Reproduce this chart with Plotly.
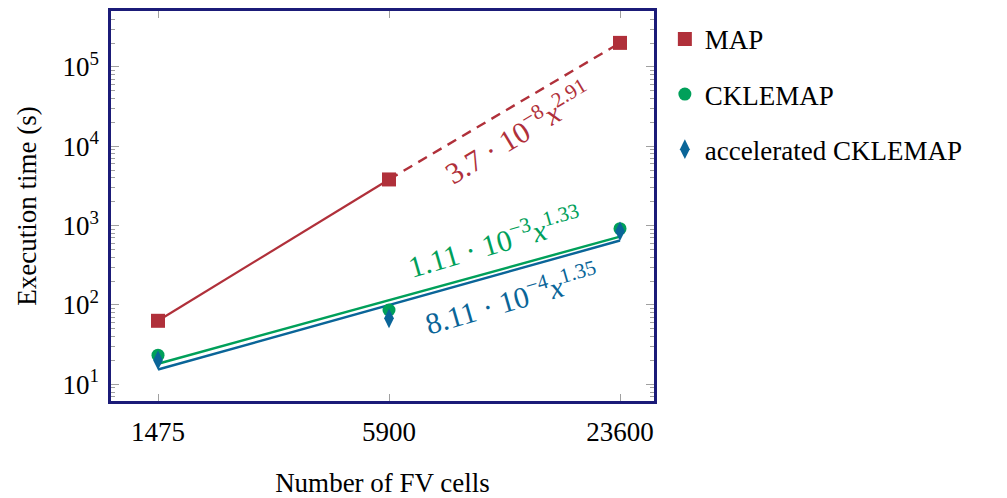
import plotly.graph_objects as go

# ---- data ----
cells = [1475, 5900, 23600]
cell_labels = ["1475", "5900", "23600"]

map_time = [63.2, 3820, 201000]
cklemap_time = [23.3, 86.5, 916]
acc_cklemap_time = [20.1, 67.9, 848]

# fitted power laws shown on the chart: coef * x**exp
map_fit = (3.7e-8, 2.91)
ckl_fit = (1.11e-3, 1.33)
acc_fit = (8.11e-4, 1.35)

y_tickvals = [1e1, 1e2, 1e3, 1e4, 1e5]
y_ticktext = ["10<sup>1</sup>", "10<sup>2</sup>", "10<sup>3</sup>", "10<sup>4</sup>", "10<sup>5</sup>"]

RED = "#b0303a"
GREEN = "#00a05a"
BLUE = "#0a6598"
NAVY = "#1b1b78"
TICK = "#a0a0a0"
FONT = "Liberation Serif"
FS = 27
AFS = 30

def fit_vals(fit, xs):
    c, e = fit
    return [c * x ** e for x in xs]

fig = go.Figure()

# MAP: measured segment solid, extrapolated segment dashed
fig.add_trace(go.Scatter(x=cells[:2], y=map_time[:2], mode="lines",
                         line=dict(color=RED, width=2.2), showlegend=False, hoverinfo="skip"))
fig.add_trace(go.Scatter(x=cells[1:], y=map_time[1:], mode="lines",
                         line=dict(color=RED, width=2.4, dash="10px,7px"), showlegend=False, hoverinfo="skip"))
# fit lines
fig.add_trace(go.Scatter(x=[cells[0], cells[-1]], y=fit_vals(ckl_fit, [cells[0], cells[-1]]), mode="lines",
                         line=dict(color=GREEN, width=2.4), showlegend=False, hoverinfo="skip"))
fig.add_trace(go.Scatter(x=[cells[0], cells[-1]], y=fit_vals(acc_fit, [cells[0], cells[-1]]), mode="lines",
                         line=dict(color=BLUE, width=2.4), showlegend=False, hoverinfo="skip"))

# markers (legend entries)
fig.add_trace(go.Scatter(x=cells, y=map_time, mode="markers", name="MAP", legendgroup="a",
                         marker=dict(symbol="square", size=14, color=RED)))
fig.add_trace(go.Scatter(x=cells, y=cklemap_time, mode="markers", name="CKLEMAP", legendgroup="b",
                         marker=dict(symbol="circle", size=13, color=GREEN)))
fig.add_trace(go.Scatter(x=cells, y=acc_cklemap_time, mode="markers", name="accelerated CKLEMAP",
                         legendgroup="c", marker=dict(symbol="diamond-tall", size=14, color=BLUE)))

# invisible trace to activate the mirrored right-hand axis (for minor ticks on the right)
fig.add_trace(go.Scatter(x=cells, y=map_time, yaxis="y2", mode="markers", marker=dict(opacity=0),
                         showlegend=False, hoverinfo="skip"))

# annotations for the fits
ann_font = dict(family=FONT, size=AFS)
fig.add_annotation(xref="paper", yref="paper", x=0.748, y=0.69, xanchor="center", yanchor="middle",
                   showarrow=False, textangle=-31,
                   text="3.7 · 10<sup>−8</sup><i>x</i><sup>2.91</sup>", font=dict(ann_font, color=RED))
fig.add_annotation(xref="paper", yref="paper", x=0.707, y=0.41, xanchor="center", yanchor="middle",
                   showarrow=False, textangle=-16,
                   text="1.11 · 10<sup>−3</sup><i>x</i><sup>1.33</sup>", font=dict(ann_font, color=GREEN))
fig.add_annotation(xref="paper", yref="paper", x=0.737, y=0.265, xanchor="center", yanchor="middle",
                   showarrow=False, textangle=-16,
                   text="8.11 · 10<sup>−4</sup><i>x</i><sup>1.35</sup>", font=dict(ann_font, color=BLUE))

minor_vals = [k * 10 ** d for d in range(0, 6) for k in range(2, 10)]
yrange = [0.79, 5.705]

fig.update_layout(
    width=1007, height=498,
    margin=dict(l=111, r=353, t=11, b=97),
    paper_bgcolor="white", plot_bgcolor="white",
    font=dict(family=FONT, size=FS, color="black"),
    legend=dict(x=1.02, y=0.99, xanchor="left", yanchor="top", font=dict(family=FONT, size=FS, color="black"),
                tracegroupgap=17, bgcolor="rgba(0,0,0,0)"),
    xaxis=dict(type="log", range=[3.0463, 4.4615], tickmode="array", tickvals=cells, ticktext=cell_labels,
               ticks="inside", ticklen=7, tickcolor=TICK, tickwidth=1.2,
               showline=True, linecolor=NAVY, linewidth=2.5, mirror="ticks",
               showgrid=False, zeroline=False, ticklabelstandoff=5, automargin=False,
               title=dict(text="Number of FV cells", standoff=28, font=dict(family=FONT, size=FS))),
    yaxis=dict(type="log", range=yrange, tickmode="array", tickvals=y_tickvals, ticktext=y_ticktext,
               ticks="inside", ticklen=8, tickcolor=TICK, tickwidth=1.2,
               minor=dict(ticks="inside", ticklen=4, tickcolor=TICK, tickwidth=1, tickvals=minor_vals, showgrid=False),
               showline=True, linecolor=NAVY, linewidth=2.5, mirror="ticks",
               showgrid=False, zeroline=False, ticklabelstandoff=4, automargin=False,
               title=dict(text="Execution time (s)", standoff=18, font=dict(family=FONT, size=FS))),
    yaxis2=dict(type="log", range=yrange, overlaying="y", side="right", showticklabels=False,
                tickmode="array", tickvals=y_tickvals, ticks="inside", ticklen=8, tickcolor=TICK, tickwidth=1.2,
                minor=dict(ticks="inside", ticklen=4, tickcolor=TICK, tickwidth=1, tickvals=minor_vals, showgrid=False),
                showline=False, showgrid=False, zeroline=False, automargin=False),
)

fig.write_html("out.html", config={"displayModeBar": False},
               post_script="document.body.style.margin='0';document.body.style.overflow='hidden';")
